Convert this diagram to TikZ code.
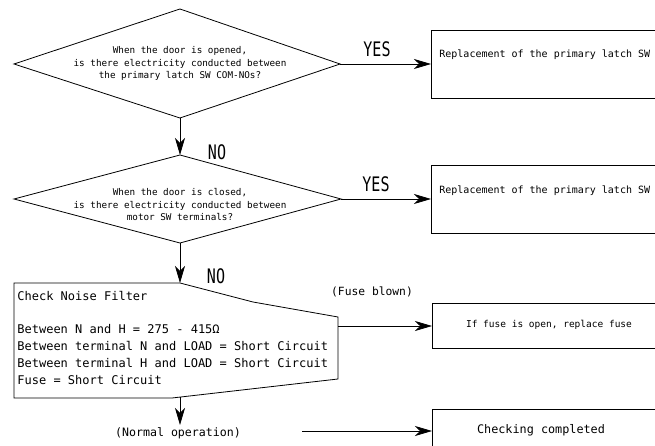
\documentclass[tikz,border=0pt]{standalone}
\usepackage{fontspec}
\usetikzlibrary{arrows.meta}
\newfontfamily\gmono{DejaVu Sans Mono}
\newfontfamily\gtall[FakeStretch=0.75]{DejaVu Sans Mono}
\newcommand{\fsz}[2]{\fontsize{#1}{#2}\selectfont}

\begin{document}
\begin{tikzpicture}[x=1pt, y=-1pt, line width=0.8pt,
  arr/.style={-{Stealth[length=17pt,width=10pt,inset=5pt]}},
  outline/.style={draw, line join=miter},
  resultbox/.style={draw, anchor=north west, inner sep=0pt},
  qtext/.style={align=center, inner sep=0pt, font=\gmono\fsz{9.3}{12.5}},
  answer/.style={inner sep=0pt, font=\gtall\fsz{20}{20}},
  note/.style={inner sep=0pt, font=\gmono\fsz{11.3}{14}}]

\useasboundingbox (0,0) rectangle (655,446);
\fill[white] (0,0) rectangle (655,446);
\clip (0,0) rectangle (655,446);

% first question
\coordinate (d1t) at (180,9);
\coordinate (d1l) at (14,64);
\coordinate (d1r) at (340,64);
\coordinate (d1b) at (180,118);
\draw[outline] (d1t) -- (d1r) -- (d1b) -- (d1l) -- cycle;
\node[qtext] (q1) at (180,63.5) {When the door is opened,\\is there electricity conducted between\\the primary latch SW COM-NOs?};

% second question
\coordinate (d2t) at (180,155);
\coordinate (d2l) at (14,199);
\coordinate (d2r) at (341,199);
\coordinate (d2b) at (180,243);
\draw[outline] (d2t) -- (d2r) -- (d2b) -- (d2l) -- cycle;
\node[qtext] (q2) at (180,205) {When the door is closed,\\is there electricity conducted between\\motor SW terminals?};

% noise filter check
\coordinate (n1) at (14,283);
\coordinate (ntop) at (180,283);
\coordinate (nk) at (253,302);
\coordinate (nr1) at (338,317);
\coordinate (nr2) at (338,379);
\coordinate (nbot) at (172,398);
\coordinate (n2) at (14,398);
\draw[outline] (n1) -- (ntop) -- (nk) -- (nr1) -- (nr2) -- (nbot) -- (n2) -- cycle;
\node[anchor=north west, align=left, inner sep=0pt, font=\gmono\fsz{12}{16.7}] (nf) at (17,291)
  {Check Noise Filter\\[16.7pt]Between N and H = 275 - 415Ω\\Between terminal N and LOAD = Short Circuit\\Between terminal H and LOAD = Short Circuit\\Fuse = Short Circuit};
\coordinate (nout) at (338,326);
\coordinate (nbtm) at (180,397);

% result boxes
\node[resultbox, minimum width=240pt, minimum height=68pt] (b1) at (431,30) {};
\node[anchor=west, inner sep=0pt, font=\gmono\fsz{10}{12}] (b1t) at (439,55) {Replacement of the primary latch SW};
\node[resultbox, minimum width=240pt, minimum height=68pt] (b2) at (431,165) {};
\node[anchor=west, inner sep=0pt, font=\gmono\fsz{10}{12}] (b2t) at (439,191) {Replacement of the primary latch SW};
\node[resultbox, minimum width=240pt, minimum height=45pt] (b3) at (432,303) {};
\node[inner sep=0pt, font=\gmono\fsz{9.5}{12}] (b3t) at (549,325) {If fuse is open, replace fuse};
\node[resultbox, minimum width=240pt, minimum height=60pt] (b4) at (432,409) {};
\node[inner sep=0pt, font=\gmono\fsz{11.8}{14}] (b4t) at (541,430) {Checking completed};

% connectors
\draw[arr] (d1r) -- (d1r -| b1.west);
\draw[arr] (d2r) -- (d2r -| b2.west);
\draw[arr] (d1b) -- (d2t);
\draw[arr] (d2b) -- (ntop);
\draw[arr] (nout) -- (nout -| b3.west);
\coordinate (cstart) at (302,431);
\draw[arr] (cstart) -- (cstart -| b4.west);
\coordinate (ntip) at (180,425);
\draw[arr] (nbtm) -- (ntip);

% labels
\node[answer] (yes1) at (377,49) {YES};
\node[answer] (yes2) at (376,184) {YES};
\node[answer] (no1) at (217,152) {NO};
\node[answer] (no2) at (216,276) {NO};
\node[note] (fb) at (372,292) {(Fuse blown)};
\node[note, font=\gmono\fsz{11.6}{14}] (nop) at (178,433) {(Normal operation)};
\end{tikzpicture}
\end{document}
